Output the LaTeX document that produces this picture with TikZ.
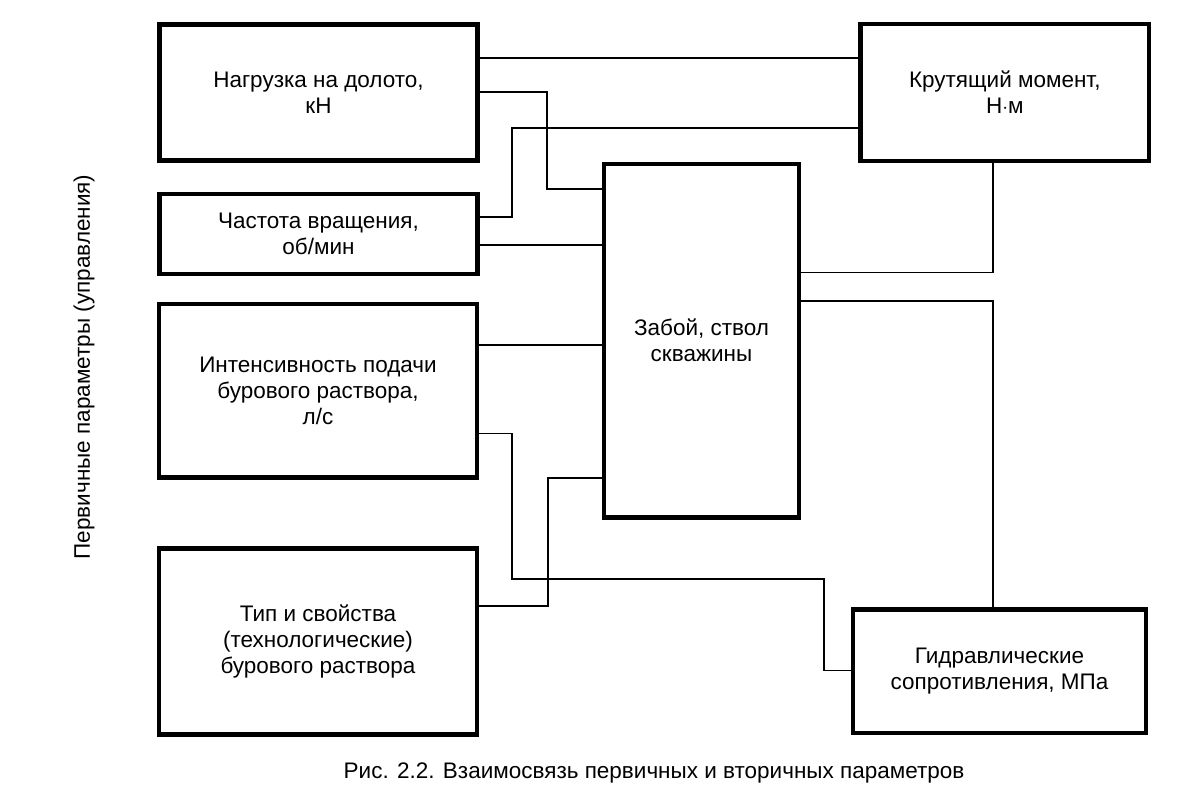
\documentclass[tikz,border=0pt]{standalone}
\usepackage{fontspec}
\setmainfont{Liberation Sans}
\begin{document}
\begin{tikzpicture}[x=1pt,y=-1pt,
  box/.style={draw,line width=4.5pt,rectangle,align=center,inner sep=0pt,outer sep=0pt,
    font=\fontsize{22.5}{26}\selectfont},
  link/.style={line width=1.8pt}]
\useasboundingbox (0,0) rectangle (1204,800);
% boxes (centre, width, height between stroke centres)
\node[box,minimum width=318pt,minimum height=136pt] (load) at (318.5,92.5) {Нагрузка на долото,\\кН};
\node[box,minimum width=318pt,minimum height=80pt] (rpm) at (318.5,234) {Частота вращения,\\об/мин};
\node[box,minimum width=318pt,minimum height=173.5pt] (flow) at (318,390.75) {Интенсивность подачи\\бурового раствора,\\л/с};
\node[box,minimum width=318pt,minimum height=186pt] (mud) at (318,641.5) {Тип и свойства\\(технологические)\\бурового раствора};
\node[box,minimum width=195pt,minimum height=353.5pt] (hole) at (701.5,340.75) {Забой, ствол\\скважины};
\node[box,minimum width=288.5pt,minimum height=137pt] (torque) at (1004.75,92.5) {Крутящий момент,\\Н$\cdot$м};
\node[box,minimum width=293pt,minimum height=123.5pt] (hyd) at (999.5,671.25) {Гидравлические\\сопротивления, МПа};
% connectors
\draw[link] (load.east |- 0,57.7) -- (torque.west |- 0,57.7);
\draw[link] (load.east |- 0,92) -| (547,189) -- (hole.west |- 0,189);
\draw[link] (rpm.east |- 0,216.7) -| (512,127.7) -- (torque.west |- 0,127.7);
\draw[link] (rpm.east |- 0,245) -- (hole.west |- 0,245);
\draw[link] (flow.east |- 0,345) -- (hole.west |- 0,345);
\draw[link] (flow.east |- 0,433.5) -| (512,579) -| (824,670.5) -- (hyd.west |- 0,670.5);
\draw[link] (mud.east |- 0,606) -| (548,477.7) -- (hole.west |- 0,477.7);
\draw[link] (hole.east |- 0,272.5) -| (torque.south -| 993.3,0);
\draw[link] (hole.east |- 0,301) -| (hyd.north -| 993.3,0);
% texts
\node[rotate=90,font=\fontsize{22.5}{26}\selectfont,inner sep=0pt] (side) at (84,367) {Первичные параметры (управления)};
\node[font=\fontsize{22.5}{26}\selectfont,inner sep=0pt] (cap) at (654,773) {Рис. 2.2. Взаимосвязь первичных и вторичных параметров};
\end{tikzpicture}
\end{document}
